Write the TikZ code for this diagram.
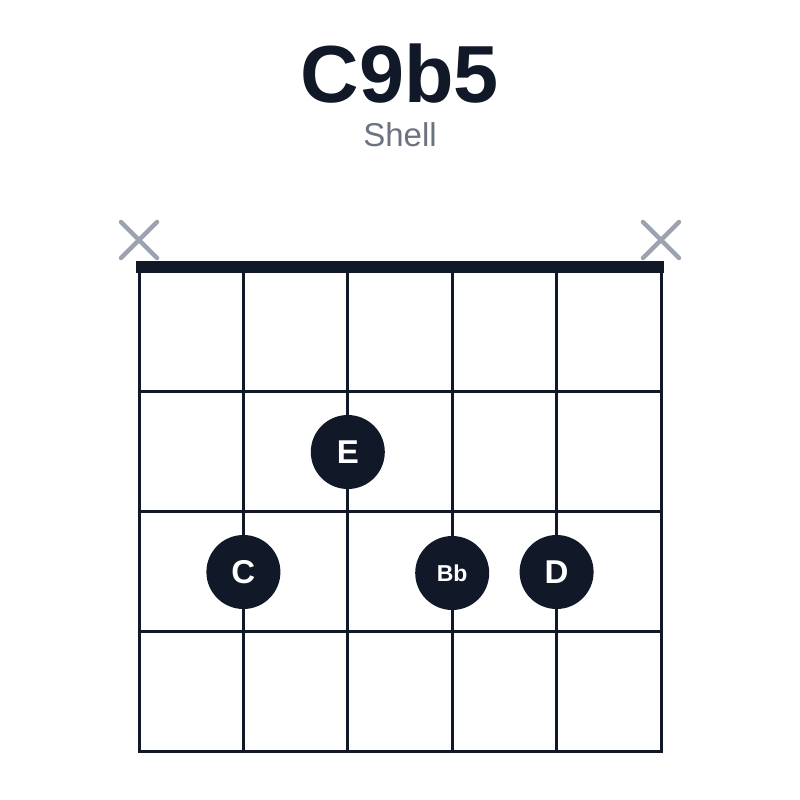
\documentclass[tikz,border=0pt]{standalone}
\usepackage{fontspec}
\setmainfont{Liberation Sans}
\definecolor{ink}{HTML}{111827}
\definecolor{mute}{HTML}{9CA3AF}
\definecolor{sub}{HTML}{6B7280}
\begin{document}
\begin{tikzpicture}[x=1pt,y=-1pt,
  gridline/.style={draw=ink,line width=3pt},
  nutline/.style={draw=ink,line width=12pt},
  xmark/.style={draw=mute,line width=4.5pt,line cap=round},
  dot/.style={circle,fill=ink,minimum size=74pt,inner sep=0pt,text=white,font=\fontsize{33}{33}\bfseries\selectfont},
  smalldot/.style={dot,font=\fontsize{23}{23}\bfseries\selectfont}]
\useasboundingbox (0,0) rectangle (800,800);
\node[font=\fontsize{81}{81}\bfseries\selectfont,text=ink] (title) at (400,74) {C9b5};
\node[font=\fontsize{33}{33}\selectfont,text=sub] (subtitle) at (400,135) {Shell};
% strings
\foreach \i/\x in {1/139,2/243.4,3/347.8,4/452.2,5/556.6,6/661}{
  \coordinate (s\i t) at (\x,267);
  \coordinate (s\i b) at (\x,751);
  \draw[gridline] (s\i t) -- (s\i b);
}
% frets
\foreach \j/\y in {1/391,2/511,3/631,4/751}{
  \coordinate (f\j l) at (137.5,\y);
  \coordinate (f\j r) at (662.5,\y);
  \draw[gridline] (f\j l) -- (f\j r);
}
\coordinate (nl) at (136,267);
\coordinate (nr) at (664,267);
\draw[nutline] (nl) -- (nr);
% muted strings
\coordinate (x1a) at (121,222); \coordinate (x1b) at (157,258);
\coordinate (x1c) at (121,258); \coordinate (x1d) at (157,222);
\draw[xmark] (x1a) -- (x1b); \draw[xmark] (x1c) -- (x1d);
\coordinate (x6a) at (643,222); \coordinate (x6b) at (679,258);
\coordinate (x6c) at (643,258); \coordinate (x6d) at (679,222);
\draw[xmark] (x6a) -- (x6b); \draw[xmark] (x6c) -- (x6d);
% fingers
\node[dot] (E) at (347.8,452) {E};
\node[dot] (C) at (243.4,572) {C};
\node[smalldot] (Bb) at (452.2,573) {Bb};
\node[dot] (D) at (556.6,572) {D};
\end{tikzpicture}
\end{document}
